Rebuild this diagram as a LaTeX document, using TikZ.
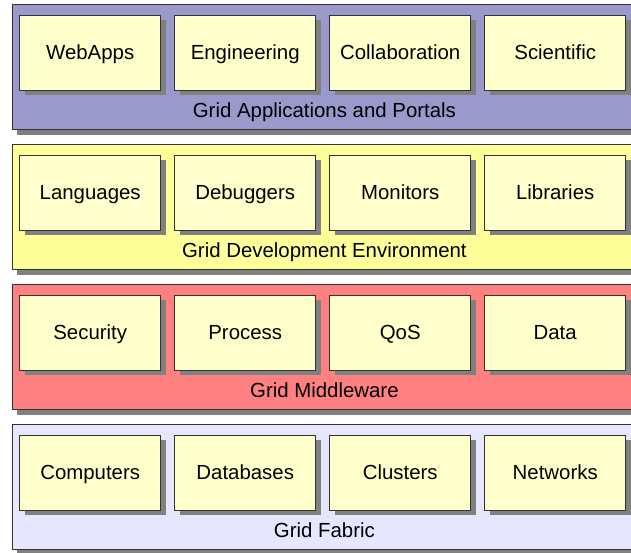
\documentclass[tikz,border=0pt]{standalone}
\usepackage{fontspec}
\setmainfont{Liberation Sans}
\usepackage{tikz}
\usepackage{xcolor}
\usetikzlibrary{positioning,shadows}
\definecolor{appscolor}{HTML}{9999CC}
\definecolor{devcolor}{HTML}{FFFF99}
\definecolor{midcolor}{HTML}{FF8080}
\definecolor{fabriccolor}{HTML}{E6E6FF}
\definecolor{cellcolor}{HTML}{FFFFCC}
\definecolor{shadowcolor}{HTML}{808080}
\colorlet{edgecolor}{black!80}
\tikzstyle{layer} =[
    draw=edgecolor,
    line width=0.8pt,
    rectangle,
    inner sep=0pt,
    minimum width=624pt,
    minimum height=125.2pt,
    drop shadow={shadow xshift=5pt, shadow yshift=-5pt, fill=shadowcolor, opacity=1}
    ]
\tikzstyle{cell} = [
    draw=edgecolor,
    fill=cellcolor,
    line width=0.8pt,
    rectangle,
    inner sep=0pt,
    minimum width=141.2pt,
    minimum height=75.2pt,
    text height=14.6pt,
    text depth=0pt,
    drop shadow={shadow xshift=5pt, shadow yshift=-5pt, fill=shadowcolor, opacity=1}
    ]
\tikzstyle{layertitle} = [
    inner sep=0pt,
    text height=14.6pt,
    text depth=0pt
    ]

\begin{document}
\begin{tikzpicture}[x=1pt, y=-1pt, font=\fontsize{20.4}{24}\selectfont, node distance=13pt]
\clip (0,0) rectangle (631,552);
\fill[white] (0,0) rectangle (631,552);

% applications and portals
\node[layer, fill=appscolor, anchor=north west] (apps) at (12,4) {};
\node[cell, below right=10.6pt and 7.2pt of apps.north west] (webapps) {WebApps};
\node[cell, right=of webapps] (engineering) {Engineering};
\node[cell, right=of engineering] (collaboration) {Collaboration};
\node[cell, right=of collaboration] (scientific) {Scientific};
\node[layertitle, above=12pt of apps.south] (appstitle) {Grid Applications and Portals};

% development environment
\node[layer, fill=devcolor, below=14pt of apps] (devenv) {};
\node[cell, below right=10.6pt and 7.2pt of devenv.north west] (languages) {Languages};
\node[cell, right=of languages] (debuggers) {Debuggers};
\node[cell, right=of debuggers] (monitors) {Monitors};
\node[cell, right=of monitors] (libraries) {Libraries};
\node[layertitle, above=12pt of devenv.south] (devtitle) {Grid Development Environment};

% middleware
\node[layer, fill=midcolor, below=14pt of devenv] (middleware) {};
\node[cell, below right=10.6pt and 7.2pt of middleware.north west] (security) {Security};
\node[cell, right=of security] (process) {Process};
\node[cell, right=of process] (qos) {QoS};
\node[cell, right=of qos] (data) {Data};
\node[layertitle, above=12pt of middleware.south] (midtitle) {Grid Middleware};

% fabric
\node[layer, fill=fabriccolor, below=14pt of middleware] (fabric) {};
\node[cell, below right=10.6pt and 7.2pt of fabric.north west] (computers) {Computers};
\node[cell, right=of computers] (databases) {Databases};
\node[cell, right=of databases] (clusters) {Clusters};
\node[cell, right=of clusters] (networks) {Networks};
\node[layertitle, above=12pt of fabric.south] (fabrictitle) {Grid Fabric};
\end{tikzpicture}
\end{document}
